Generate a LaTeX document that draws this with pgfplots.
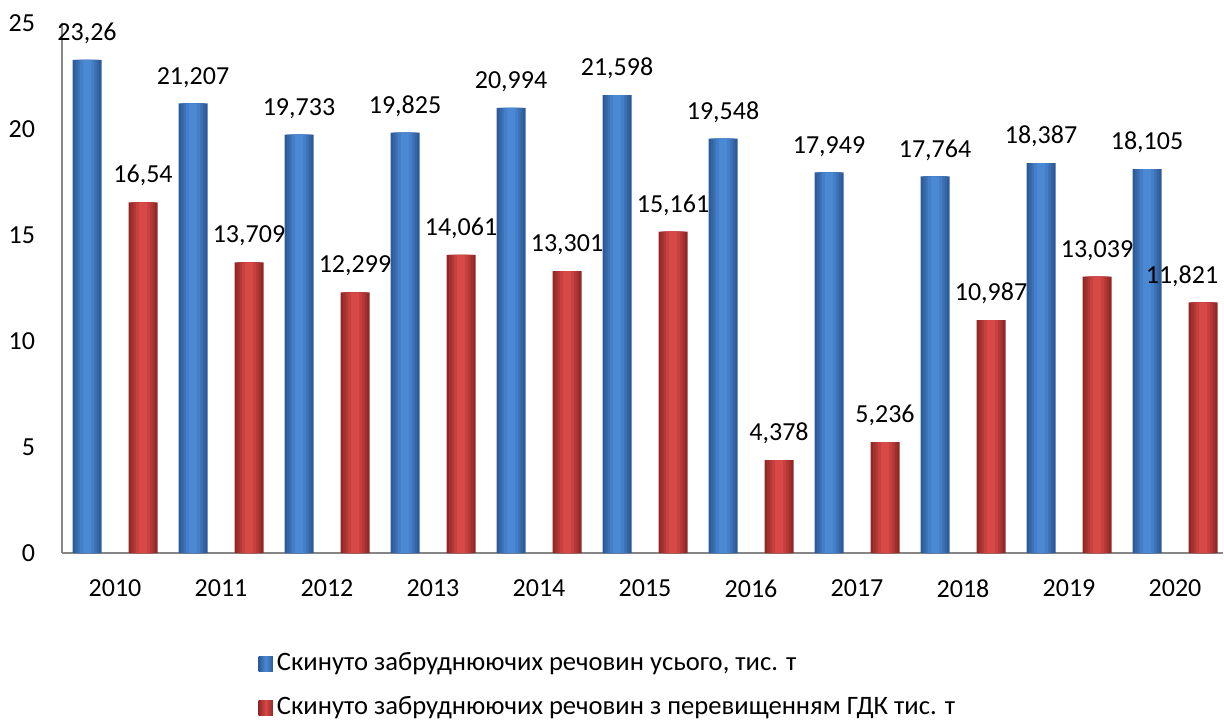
\documentclass[border=0pt]{standalone}
\usepackage{pgfplots}
\pgfplotsset{compat=1.18}
\usepackage{pgfplotstable}
\usepackage{fontspec}
\setmainfont{Carlito}
\definecolor{bluemid}{HTML}{4C89D5}
\definecolor{blueedge}{HTML}{2C5B98}
\definecolor{redmid}{HTML}{D84846}
\definecolor{rededge}{HTML}{902826}
\definecolor{axgray}{HTML}{868686}

\pgfplotstableread{
x y
0 23.26
1 21.207
2 19.733
3 19.825
4 20.994
5 21.598
6 19.548
7 17.949
8 17.764
9 18.387
10 18.105
}\bluedata

\pgfplotstableread{
x y dx
0 16.54 0
1 13.709 0
2 12.299 0
3 14.061 0
4 13.301 0
5 15.161 0
6 4.378 0
7 5.236 0
8 10.987 0
9 13.039 0
10 11.821 -10.5
}\reddata

\begin{document}
\fontsize{13}{15.6}\selectfont
\begin{tikzpicture}
\begin{axis}[
  scale only axis,
  width=580.35pt, height=265pt,
  xmin=-0.5, xmax=10.45,
  ymin=0, ymax=25,
  ytick={0,5,10,15,20,25},
  xtick={0,...,10},
  xticklabels={2010,2011,2012,2013,2014,2015,2016,2017,2018,2019,2020},
  axis x line*=bottom,
  axis y line*=left,
  axis line style={axgray, line width=0.8pt},
  major tick length=0pt,
  /pgf/number format/assume math mode=true,
  tick label style={font=\fontsize{13}{15.6}\selectfont, text=black},
  yticklabel style={xshift=-9pt},
  xticklabel style={yshift=-9pt},
  ybar,
  legend style={at={(0.169,-0.18)}, anchor=north west, draw=none, fill=none,
    font=\fontsize{13.3}{16}\selectfont, row sep=7pt, inner sep=0pt,
    /tikz/every even column/.append style={column sep=3pt}},
  legend cell align=left,
  clip=false,
]
% blue series, outer layer with labels and legend
\addplot[draw=none, fill=blueedge, bar width=14.5pt, bar shift=-14pt,
  nodes near coords={\pgfmathprintnumber[use comma,precision=3,1000 sep={}]{\pgfplotspointmeta}},
  every node near coord/.append style={font=\fontsize{13}{15.6}\selectfont, text=black, yshift=3.5pt},
  legend image code/.code={\path[draw=none,left color=blueedge,right color=blueedge,middle color=bluemid] (0pt,-3.6pt) rectangle (7.2pt,3.6pt);}
  ] table[x=x,y=y] {\bluedata};
\addlegendentry{Скинуто забруднюючих речовин усього, тис. т}
% red series, outer layer with labels and legend
\addplot[draw=none, fill=rededge, bar width=14.5pt, bar shift=14pt,
  nodes near coords={\pgfmathprintnumber[use comma,precision=3,1000 sep={}]{\pgfplotspointmeta}},
  visualization depends on={\thisrow{dx} \as \dx},
  every node near coord/.append style={font=\fontsize{13}{15.6}\selectfont, text=black, yshift=3.5pt, xshift=\dx pt},
  legend image code/.code={\path[draw=none,left color=rededge,right color=rededge,middle color=redmid] (0pt,-3.6pt) rectangle (7.2pt,3.6pt);}
  ] table[x=x,y=y] {\reddata};
\addlegendentry{Скинуто забруднюючих речовин з перевищенням ГДК тис. т}
% inner gradient layers
\addplot[forget plot, draw=none, fill=blueedge!75!bluemid, bar width=12pt, bar shift=-14pt] table[x=x,y=y] {\bluedata};
\addplot[forget plot, draw=none, fill=blueedge!50!bluemid, bar width=9.5pt, bar shift=-14pt] table[x=x,y=y] {\bluedata};
\addplot[forget plot, draw=none, fill=blueedge!25!bluemid, bar width=7pt, bar shift=-14pt] table[x=x,y=y] {\bluedata};
\addplot[forget plot, draw=none, fill=bluemid, bar width=4pt, bar shift=-14pt] table[x=x,y=y] {\bluedata};
\addplot[forget plot, draw=none, fill=rededge!75!redmid, bar width=12pt, bar shift=14pt] table[x=x,y=y] {\reddata};
\addplot[forget plot, draw=none, fill=rededge!50!redmid, bar width=9.5pt, bar shift=14pt] table[x=x,y=y] {\reddata};
\addplot[forget plot, draw=none, fill=rededge!25!redmid, bar width=7pt, bar shift=14pt] table[x=x,y=y] {\reddata};
\addplot[forget plot, draw=none, fill=redmid, bar width=4pt, bar shift=14pt] table[x=x,y=y] {\reddata};
\coordinate (sw) at (rel axis cs:0,0);
\coordinate (ne) at (rel axis cs:1,1);
\end{axis}
\pgfresetboundingbox
\path[use as bounding box] ([xshift=-31pt,yshift=-85.5pt]sw) rectangle ([xshift=0.65pt,yshift=11.5pt]ne);
\end{tikzpicture}
\end{document}
